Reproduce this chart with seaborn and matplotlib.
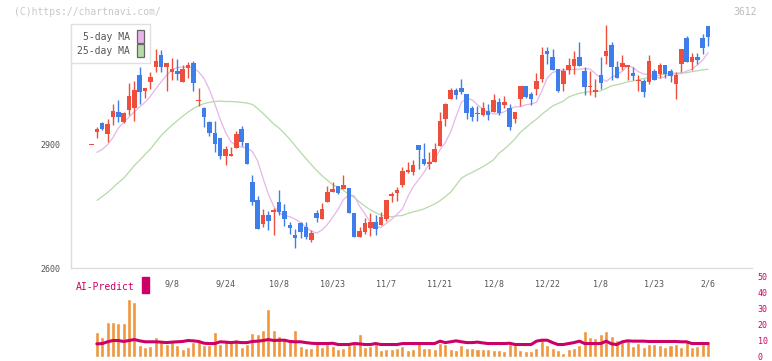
import numpy as np
import pandas as pd
import matplotlib
matplotlib.use("Agg")
import matplotlib.pyplot as plt
from matplotlib.patches import Patch, Rectangle
import seaborn as sns

# daily candles, oldest first
opens = [2900, 2931, 2954, 2926, 2967, 2980, 2955, 2985, 2989, 3071,
         3032, 3054, 3089, 3119, 3089, 3079, 3081, 3054, 3087, 3100,
         3007, 2990, 2956, 2929, 2917, 2872, 2872, 2893, 2939, 2905,
         2810, 2766, 2708, 2729, 2736, 2761, 2739, 2705, 2680, 2710,
         2700, 2668, 2734, 2720, 2762, 2785, 2799, 2793, 2794, 2734,
         2676, 2689, 2698, 2712, 2706, 2719, 2776, 2784, 2802, 2835,
         2833, 2900, 2866, 2854, 2859, 2898, 2964, 3013, 3034, 3039,
         3024, 2989, 2979, 2973, 2983, 2981, 3004, 2998, 2990, 2964,
         3013, 3044, 3024, 3037, 3060, 3129, 3115, 3085, 3049, 3083,
         3093, 3115, 3081, 3042, 3028, 3070, 3118, 3144, 3090, 3089,
         3089, 3076, 3055, 3056, 3054, 3080, 3073, 3095, 3080, 3049,
         3098, 3161, 3103, 3115, 3161, 3190]
highs = [2900, 2945, 2957, 2963, 3000, 3010, 2981, 3050, 3056, 3091,
         3039, 3077, 3134, 3131, 3100, 3111, 3110, 3095, 3103, 3105,
         3038, 2993, 2959, 2959, 2917, 2898, 2896, 2934, 2947, 2905,
         2827, 2776, 2744, 2739, 2746, 2790, 2756, 2712, 2694, 2713,
         2712, 2693, 2741, 2759, 2799, 2809, 2799, 2827, 2794, 2734,
         2699, 2723, 2734, 2729, 2736, 2765, 2786, 2798, 2847, 2859,
         2863, 2900, 2905, 2882, 2905, 2980, 3003, 3038, 3038, 3061,
         3024, 2995, 2995, 3004, 3000, 3024, 3014, 3019, 2999, 2981,
         3044, 3044, 3030, 3075, 3138, 3138, 3133, 3085, 3087, 3111,
         3129, 3151, 3090, 3081, 3061, 3115, 3193, 3151, 3105, 3119,
         3095, 3090, 3071, 3061, 3119, 3085, 3101, 3095, 3085, 3077,
         3134, 3166, 3124, 3124, 3171, 3190]
lows = [2900, 2916, 2937, 2908, 2949, 2957, 2953, 2973, 2959, 2999,
        3014, 3037, 3079, 3079, 3032, 3059, 3059, 3054, 3063, 3032,
        2995, 2945, 2921, 2884, 2867, 2851, 2872, 2893, 2898, 2854,
        2754, 2696, 2700, 2692, 2680, 2729, 2703, 2684, 2648, 2672,
        2671, 2664, 2713, 2720, 2762, 2785, 2780, 2793, 2733, 2676,
        2676, 2684, 2679, 2680, 2705, 2715, 2762, 2764, 2798, 2831,
        2828, 2841, 2850, 2841, 2859, 2898, 2947, 3013, 3012, 3024,
        2964, 2959, 2959, 2971, 2961, 2981, 2972, 2989, 2937, 2954,
        2996, 3014, 2998, 3022, 3054, 3098, 3084, 3028, 3032, 3073,
        3073, 3093, 3022, 3022, 3018, 3037, 3098, 3059, 3064, 3083,
        3059, 3059, 3032, 3018, 3049, 3059, 3064, 3064, 3054, 3012,
        3077, 3103, 3083, 3098, 3122, 3141]
closes = [2900, 2939, 2938, 2951, 2982, 2967, 2978, 3019, 3033, 3028,
          3039, 3066, 3105, 3089, 3100, 3085, 3074, 3085, 3095, 3050,
          3010, 2967, 2928, 2903, 2872, 2889, 2877, 2927, 2908, 2854,
          2762, 2696, 2729, 2715, 2741, 2737, 2720, 2698, 2672, 2689,
          2676, 2685, 2722, 2744, 2785, 2793, 2784, 2802, 2733, 2676,
          2690, 2709, 2711, 2696, 2724, 2765, 2780, 2790, 2837, 2839,
          2851, 2888, 2854, 2859, 2890, 2959, 3000, 3034, 3023, 3028,
          2979, 2967, 2976, 2989, 2972, 3009, 2979, 3004, 2945, 2981,
          3044, 3018, 3013, 3056, 3119, 3122, 3084, 3032, 3080, 3095,
          3110, 3093, 3042, 3044, 3034, 3050, 3129, 3089, 3064, 3099,
          3095, 3069, 3057, 3028, 3105, 3059, 3095, 3072, 3068, 3071,
          3134, 3103, 3115, 3108, 3137, 3163]

ma5 = [np.nan, 2882, 2889, 2901, 2918, 2941, 2955, 2968, 2981, 2993,
       3004, 3019, 3037, 3054, 3070, 3083, 3089, 3090, 3090, 3089,
       3078, 3062, 3035, 3000, 2963, 2931, 2908, 2898, 2895, 2893,
       2884, 2861, 2819, 2780, 2750, 2734, 2728, 2725, 2719, 2711,
       2699, 2690, 2685, 2693, 2706, 2724, 2743, 2767, 2778, 2776,
       2751, 2732, 2712, 2701, 2699, 2709, 2719, 2731, 2744, 2774,
       2798, 2815, 2833, 2854, 2865, 2888, 2906, 2932, 2969, 3004,
       3014, 3010, 2998, 2987, 2980, 2976, 2976, 2981, 2988, 2993,
       2993, 2998, 3000, 3004, 3032, 3063, 3077, 3080, 3083, 3083,
       3084, 3085, 3086, 3085, 3074, 3063, 3055, 3065, 3071, 3080,
       3093, 3089, 3079, 3073, 3072, 3068, 3063, 3067, 3073, 3073,
       3074, 3080, 3085, 3095, 3107, 3125]
ma25 = [np.nan, 2765, 2774, 2784, 2796, 2808, 2819, 2834, 2850, 2863,
        2877, 2890, 2907, 2923, 2936, 2948, 2959, 2970, 2980, 2989,
        2996, 3001, 3004, 3006, 3007, 3006, 3006, 3005, 3004, 3002,
        2999, 2989, 2977, 2964, 2951, 2941, 2928, 2914, 2898, 2882,
        2867, 2852, 2838, 2825, 2814, 2803, 2796, 2789, 2780, 2772,
        2761, 2751, 2742, 2735, 2729, 2726, 2725, 2727, 2728, 2733,
        2737, 2740, 2744, 2750, 2756, 2764, 2774, 2785, 2802, 2819,
        2827, 2833, 2840, 2847, 2855, 2864, 2880, 2890, 2902, 2915,
        2931, 2942, 2953, 2963, 2975, 2985, 2995, 3001, 3007, 3017,
        3022, 3026, 3028, 3030, 3030, 3032, 3038, 3044, 3047, 3050,
        3054, 3056, 3059, 3062, 3064, 3067, 3071, 3073, 3075, 3075,
        3076, 3076, 3079, 3081, 3083, 3085]

volume = [np.nan, 15.5, 12.2, 21.8, 21.8, 21.0, 21.0, 36.3, 34.5, 7.4,
          6.1, 6.7, 12.2, 10.1, 8.0, 10.5, 7.4, 4.8, 6.1, 9.5,
          10.1, 7.4, 7.4, 15.5, 8.0, 10.5, 10.5, 11.1, 6.1, 8.0,
          14.7, 14.1, 16.8, 30.0, 16.8, 13.0, 11.6, 10.1, 16.8, 6.7,
          5.5, 5.5, 8.0, 6.1, 8.0, 6.7, 5.0, 5.5, 7.4, 8.0,
          14.3, 6.1, 6.7, 8.0, 4.4, 4.8, 5.3, 5.9, 6.9, 4.2,
          4.8, 10.3, 5.9, 5.9, 5.3, 9.0, 8.0, 5.3, 4.6, 7.8,
          5.9, 5.9, 5.3, 5.3, 4.8, 4.2, 4.6, 4.0, 8.4, 7.8,
          4.6, 4.0, 4.0, 5.9, 10.5, 7.8, 5.9, 4.6, 2.7, 5.3,
          5.9, 7.8, 16.0, 12.8, 11.6, 14.1, 16.0, 13.4, 10.9, 9.9,
          9.9, 7.1, 9.0, 6.5, 8.4, 8.4, 7.8, 6.5, 7.8, 8.4,
          6.5, 10.9, 6.5, 7.1, 8.4, 10.3]
ai_predict = [np.nan, 8.2, 8.4, 9.5, 10.3, 10.3, 9.7, 10.3, 10.9, 10.1,
              9.5, 9.5, 9.5, 9.3, 9.0, 9.3, 9.5, 9.7, 10.3, 10.1,
              9.7, 8.6, 8.4, 8.4, 9.5, 9.3, 9.0, 9.3, 9.0, 9.0,
              9.7, 9.9, 10.3, 10.9, 10.3, 10.5, 10.5, 9.7, 9.5, 9.5,
              9.0, 8.6, 8.4, 8.4, 8.4, 8.6, 7.8, 7.8, 7.8, 8.4,
              8.2, 7.8, 7.8, 8.4, 7.8, 7.8, 7.8, 7.8, 8.4, 8.4,
              8.4, 8.4, 8.4, 8.4, 8.4, 9.9, 9.0, 9.5, 10.1, 9.5,
              9.0, 9.0, 9.3, 8.8, 8.4, 8.4, 8.4, 8.4, 8.6, 7.8,
              7.8, 7.8, 7.8, 9.9, 10.5, 10.5, 9.0, 7.8, 7.8, 8.4,
              9.0, 9.9, 8.4, 8.4, 8.4, 8.4, 9.9, 8.2, 7.8, 9.5,
              10.1, 9.9, 9.9, 9.9, 9.7, 9.7, 9.7, 9.7, 9.7, 9.7,
              9.5, 9.5, 8.4, 8.4, 8.4, 8.4]

date_labels = ["9/8", "9/24", "10/8", "10/23", "11/7", "11/21",
               "12/8", "12/22", "1/8", "1/23", "2/6"]
date_pos = [15, 25, 35, 45, 55, 65, 75, 85, 95, 105, 115]

UP = "#ee4e3c"
DOWN = "#3f7dea"
PINK = "#e6b6ea"
GREEN = "#b4dba8"
MAGENTA = "#cc0066"
ORANGE = "#f0963c"
GRID = "#dddddd"
TXT = "#555555"

sns.set_style("white")
plt.rcParams["font.family"] = ["DejaVu Sans Mono"]

df = pd.DataFrame({"open": opens, "high": highs, "low": lows, "close": closes,
                   "ma5": ma5, "ma25": ma25, "volume": volume, "ai": ai_predict})
df["idx"] = np.arange(len(df))
df["up"] = df["close"] >= df["open"]

W, H = 772, 361


def box(l, t, r, b):
    return [l / W, 1 - b / H, (r - l) / W, (b - t) / H]


fig = plt.figure(figsize=(W / 100, H / 100), dpi=100)
ax = fig.add_axes(box(71, 24, 752, 268))
axv = fig.add_axes(box(71, 277, 752, 357))
axv.patch.set_visible(False)

xlim = (-3.82, 123.2)

# moving averages
sns.lineplot(data=df, x="idx", y="ma25", color=GREEN, linewidth=0.9, ax=ax, zorder=2)
sns.lineplot(data=df, x="idx", y="ma5", color=PINK, linewidth=0.9, ax=ax, zorder=2)

# candles
cols = np.where(df["up"], UP, DOWN)
ax.vlines(df["idx"], df["low"], df["high"], colors=cols, linewidth=1.0, zorder=3)
body = np.maximum((df["close"] - df["open"]).abs(), 2.4)
ax.bar(df["idx"], body, bottom=np.minimum(df["open"], df["close"]),
       width=0.85, color=cols, linewidth=0, zorder=4)

ax.set_xlim(*xlim)
ax.set_ylim(2600, 3195)
ax.set_xlabel("")
ax.set_ylabel("")
for s in ["top", "right"]:
    ax.spines[s].set_visible(False)
for s in ["left", "bottom"]:
    ax.spines[s].set_color(GRID)
    ax.spines[s].set_linewidth(1.0)

ax.set_yticks([2600, 2900])
ax.set_yticklabels(["2600", "2900"])
ax.tick_params(axis="y", direction="inout", length=6.5, width=1.0, color=GRID,
               labelsize=6, labelcolor=TXT, pad=4)
ax.yaxis.get_major_ticks()[0].tick1line.set_visible(False)

ax.set_xticks(date_pos)
ax.set_xticklabels(date_labels)
ax.tick_params(axis="x", which="major", length=0, labelsize=6, labelcolor=TXT, pad=8)
ax.set_xticks(np.linspace(xlim[0], xlim[1], 12), minor=True)
ax.tick_params(axis="x", which="minor", direction="inout", length=4, width=1.0, color=GRID)

handles = [Patch(facecolor=PINK, edgecolor="#666666", linewidth=0.9, label="5-day MA"),
           Patch(facecolor=GREEN, edgecolor="#666666", linewidth=0.9, label="25-day MA")]
leg = ax.legend(handles=handles, loc="upper left", bbox_to_anchor=(0, 1),
                borderaxespad=0, markerfirst=False, handlelength=0.72,
                handleheight=1.65, handletextpad=0.69, labelspacing=0.1,
                borderpad=0.65, fancybox=False, framealpha=1,
                edgecolor="#e0e0e0", prop={"family": "DejaVu Sans Mono", "size": 7},
                labelcolor=TXT)
leg.get_frame().set_linewidth(1.0)
leg.set_zorder(10)

# AI-Predict panel
sns.barplot(data=df, x="idx", y="volume", native_scale=True, width=0.75,
            color=ORANGE, saturation=1, errorbar=None, ax=axv, zorder=2)
sns.lineplot(data=df, x="idx", y="ai", color=MAGENTA, linewidth=2.2, ax=axv, zorder=3)
axv.set_xlim(*xlim)
axv.set_ylim(0, 50)
axv.set_xlabel("")
axv.set_ylabel("")
for s in axv.spines.values():
    s.set_visible(False)
axv.set_xticks([])
axv.yaxis.tick_right()
axv.set_yticks(range(0, 51, 10))
axv.tick_params(axis="y", length=0, labelsize=6, labelcolor=MAGENTA, pad=4)
for lab in axv.get_yticklabels():
    lab.set_verticalalignment("center_baseline")

fig.text(14 / W, 1 - 12 / H, "(C)https://chartnavi.com/", fontsize=7,
         color="#c8c8c8", va="center")
fig.text(757 / W, 1 - 12 / H, "3612", fontsize=7, color="#bbbbbb",
         va="center", ha="right")
fig.text(76 / W, 1 - 286.5 / H, "AI-Predict", fontsize=7, color=MAGENTA, va="center")
fig.add_artist(Rectangle((142 / W, 1 - 293 / H), 7 / W, 16 / H,
                         transform=fig.transFigure, color=MAGENTA))

fig.savefig("out.png", dpi=100)
